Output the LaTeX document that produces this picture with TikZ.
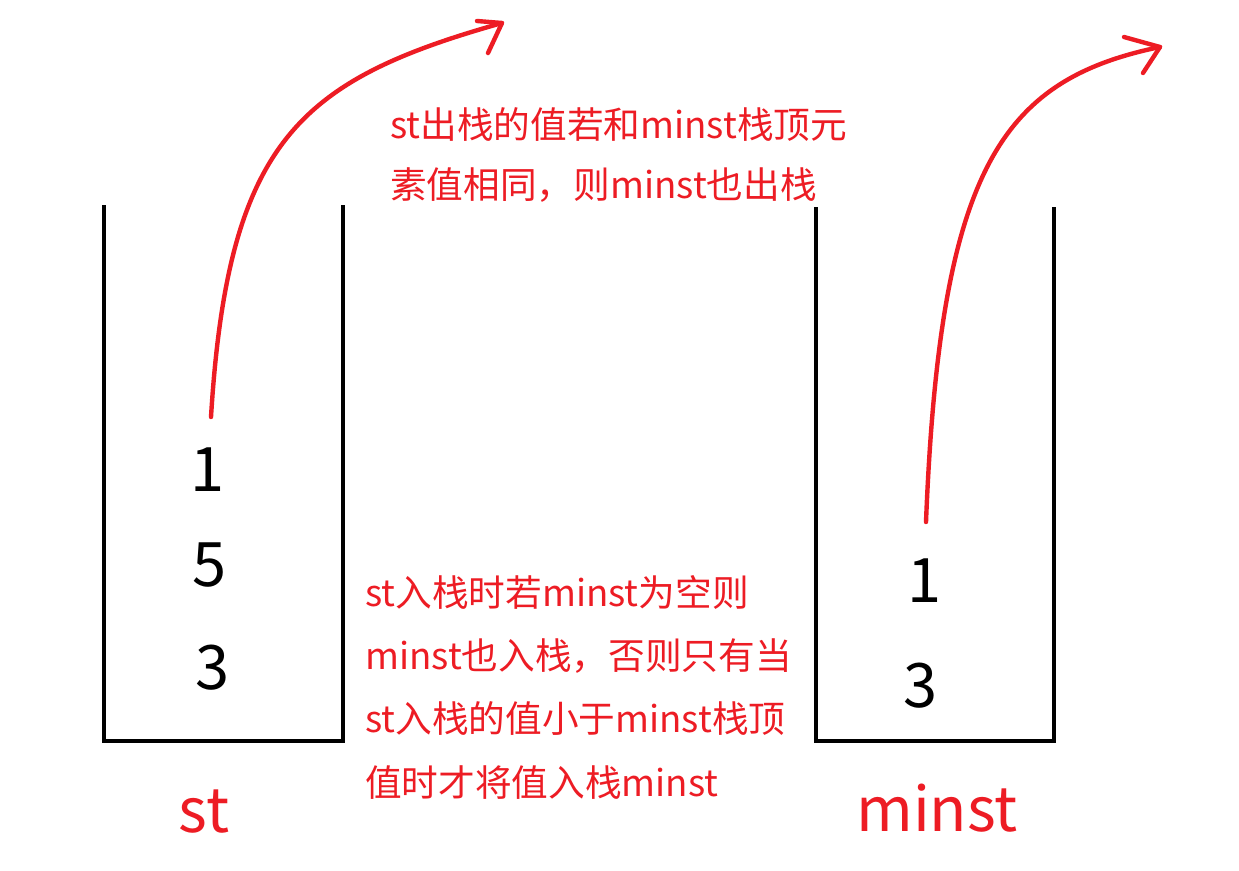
\documentclass[tikz,border=0pt]{standalone}
\usepackage{fontspec}
\setmainfont{Noto Sans CJK SC}
\definecolor{pred}{RGB}{237,28,36}
\begin{document}
\begin{tikzpicture}[x=0.75pt,y=-0.75pt,
  wall/.style={line width=3.4pt,black},
  redarrow/.style={line width=3.3pt,pred,line cap=round,line join=round},
  digit/.style={inner sep=0pt,font=\fontsize{46}{46}\selectfont},
  stacklabel/.style={inner sep=0pt,text=pred,font=\fontsize{46}{46}\selectfont},
  note/.style={inner sep=0pt,text=pred,anchor=west,align=left}]
\fill[white] (0,0) rectangle (1239,871);
\useasboundingbox (0,0) rectangle (1239,871);
% stacks
\draw[wall] (104,205) -- (104,741) -- (343,741) -- (343,205);
\draw[wall] (816,207) -- (816,741) -- (1054,741) -- (1054,207);
% st contents
\node[digit] (s1) at (208,470) {1};
\node[digit] (s5) at (210,565) {5};
\node[digit] (s3) at (213,668) {3};
% minst contents
\node[digit] (m1) at (925,581) {1};
\node[digit] (m3) at (921,686) {3};
% labels
\node[stacklabel] (stl) at (204,812) {st};
\node[stacklabel] (mnl) at (937,808) {minst};
% notes
\node[note,font=\fontsize{27.5}{45}\selectfont] (top) at (390,155) {st出栈的值若和minst栈顶元\\素值相同，则minst也出栈};
\node[note,font=\fontsize{27.5}{47.5}\selectfont] (bot) at (365,687) {st入栈时若minst为空则\\minst也入栈，否则只有当\\st入栈的值小于minst栈顶\\值时才将值入栈minst};
% arrows
\coordinate (a1s) at (211,417);
\coordinate (a1e) at (502,23);
\coordinate (a1b1) at (477,21);
\coordinate (a1b2) at (488,53);
\draw[redarrow] (a1s) .. controls (228,140) and (300,80) .. (a1e);
\draw[redarrow] (a1b1) -- (a1e) -- (a1b2);
\coordinate (a2s) at (926,522);
\coordinate (a2e) at (1160,47);
\coordinate (a2b1) at (1124,37);
\coordinate (a2b2) at (1143,73);
\draw[redarrow] (a2s) .. controls (940,170) and (1000,80) .. (a2e);
\draw[redarrow] (a2b1) -- (a2e) -- (a2b2);
\end{tikzpicture}
\end{document}
